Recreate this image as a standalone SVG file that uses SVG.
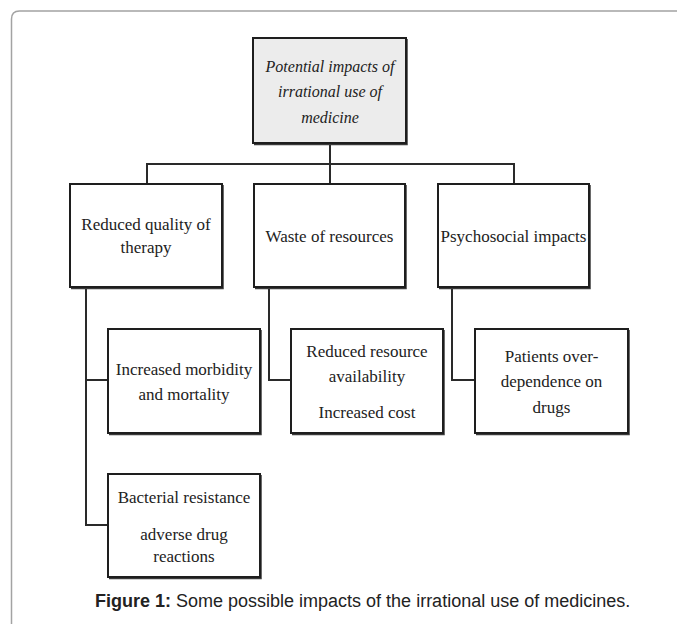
<svg xmlns="http://www.w3.org/2000/svg" width="677" height="624" viewBox="0 0 677 624">
<style>
.box{fill:#fff;stroke:#1e1e1e;stroke-width:2}
.top{fill:#ececec;stroke:#1e1e1e;stroke-width:2}
.shd{fill:none;stroke:#3a3a3a;stroke-width:1.5}
.t{font-family:"Liberation Serif","Times New Roman",serif;font-size:17px;fill:#222;text-anchor:middle}
.ti{font-family:"Liberation Serif","Times New Roman",serif;font-size:16px;font-style:italic;fill:#222;text-anchor:middle}
.c{fill:none;stroke:#2a2a2a;stroke-width:2}
.cap{font-family:"Liberation Sans",Arial,sans-serif;font-size:18px;fill:#222}
</style>
<rect width="677" height="624" fill="#fff"/>
<path d="M11.5 624 V19 Q11.5 11 19.5 11 H677" fill="none" stroke="#a3a3a3" stroke-width="1.5"/>
<g id="connectors">
<path class="c" d="M330 143 V184"/>
<path class="c" d="M147 184 V164 H514 V184"/>
<path class="c" d="M86 287 V525 H108 M86 380 H108"/>
<path class="c" d="M269 287 V380 H291"/>
<path class="c" d="M452 287 V380 H475"/>
</g>
<g id="root">
<path class="shd" d="M254 144.5 H407 V39"/>
<rect class="top" x="253" y="38" width="153" height="105"/>
<text class="ti" x="330" y="72">Potential impacts of</text>
<text class="ti" x="330" y="97">irrational use of</text>
<text class="ti" x="330" y="123">medicine</text>
</g>
<g id="reduced-quality">
<path class="shd" d="M71 288.5 H223 V185"/>
<rect class="box" x="70" y="184" width="152" height="103"/>
<text class="t" x="146" y="230">Reduced quality of</text>
<text class="t" x="146" y="253">therapy</text>
</g>
<g id="waste">
<path class="shd" d="M255 288.5 H406 V185"/>
<rect class="box" x="254" y="184" width="151" height="103"/>
<text class="t" x="329.5" y="242">Waste of resources</text>
</g>
<g id="psychosocial">
<path class="shd" d="M439 288.5 H590 V185"/>
<rect class="box" x="438" y="184" width="151" height="103"/>
<text class="t" x="513.5" y="242">Psychosocial impacts</text>
</g>
<g id="morbidity">
<path class="shd" d="M109 434.5 H261 V330"/>
<rect class="box" x="108" y="329" width="152" height="104"/>
<text class="t" x="184" y="375">Increased morbidity</text>
<text class="t" x="184" y="400">and mortality</text>
</g>
<g id="resource">
<path class="shd" d="M292 434.5 H444 V330"/>
<rect class="box" x="291" y="329" width="152" height="104"/>
<text class="t" x="367" y="357">Reduced resource</text>
<text class="t" x="367" y="382">availability</text>
<text class="t" x="367" y="418">Increased cost</text>
</g>
<g id="dependence">
<path class="shd" d="M476 434.5 H629 V330"/>
<rect class="box" x="475" y="329" width="153" height="104"/>
<text class="t" x="551.5" y="362">Patients over-</text>
<text class="t" x="551.5" y="387">dependence on</text>
<text class="t" x="551.5" y="413">drugs</text>
</g>
<g id="bacterial">
<path class="shd" d="M109 578.5 H261 V475"/>
<rect class="box" x="108" y="474" width="152" height="103"/>
<text class="t" x="184" y="503">Bacterial resistance</text>
<text class="t" x="184" y="540">adverse drug</text>
<text class="t" x="184" y="562">reactions</text>
</g>
<text class="cap" x="95" y="607"><tspan font-weight="bold">Figure 1:</tspan> Some possible impacts of the irrational use of medicines.</text>
</svg>
